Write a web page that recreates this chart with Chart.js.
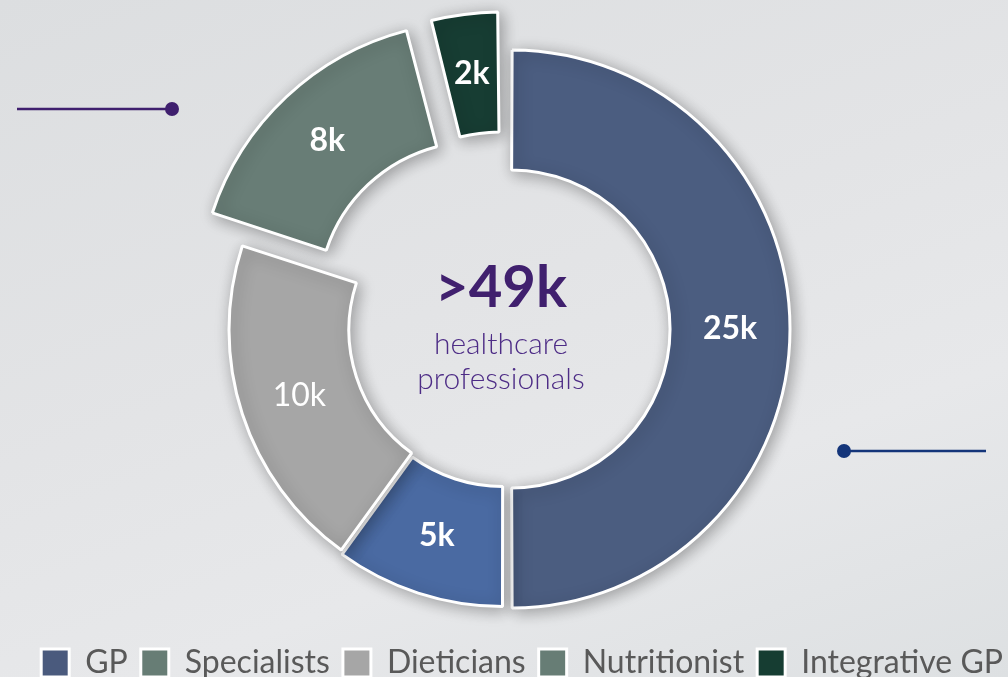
<!DOCTYPE html>
<html>
<head>
<meta charset="utf-8">
<script src="https://cdn.jsdelivr.net/npm/chart.js@4.4.1/dist/chart.umd.min.js"></script>
<style>
  html, body { margin: 0; padding: 0; }
  body {
    width: 1008px; height: 677px; overflow: hidden;
    background: linear-gradient(160deg, #dcdee0 0%, #e3e4e6 45%, #e7e8ea 70%, #dde0e2 100%);
  }
  #wrap { position: relative; width: 1008px; height: 677px; }
</style>
</head>
<body>
<div id="wrap"><canvas id="donut"></canvas></div>
<script>
const categories = ['GP', 'Specialists', 'Dieticians', 'Nutritionist', 'Integrative GP'];
const values = [25, 5, 10, 8, 2];
const valueLabels = ['25k', '5k', '10k', '8k', '2k'];
const sliceColors = ['#4b5d80', '#4a6aa2', '#a6a6a6', '#687d76', '#173d33'];
const legendColors = ['#4a5a7d', '#677d75', '#a6a6a6', '#677d75', '#163d32'];
const explode = [28, 16, 12, 160, 103];
const centerTitle = '>49k';
const centerLines = ['healthcare', 'professionals'];

const FONT = 'Lato, "Open Sans", sans-serif';

// soft drop shadow under the slices
const shadowPlugin = {
    id: 'shadow',
    beforeDatasetsDraw(chart) {
        const ctx = chart.ctx;
        ctx.save();
        ctx.shadowColor = 'rgba(0,0,0,0.32)';
        ctx.shadowBlur = 16;
        ctx.shadowOffsetX = 3;
        ctx.shadowOffsetY = 3;
    },
    afterDatasetsDraw(chart) {
        chart.ctx.restore();
    }
};

// value labels inside each slice, following the exploded position
const sliceLabels = {
    id: 'sliceLabels',
    afterDatasetsDraw(chart) {
        const ctx = chart.ctx;
        const meta = chart.getDatasetMeta(0);
        meta.data.forEach((el, i) => {
            const p = el.getProps(['x', 'y', 'startAngle', 'endAngle', 'innerRadius', 'outerRadius', 'circumference'], true);
            const off = (el.options.offset || 0) / 4;
            const fix = 1 - Math.sin(Math.min(Math.PI, p.circumference));
            const mid = (p.startAngle + p.endAngle) / 2;
            const r = (p.innerRadius + p.outerRadius) / 2 + off * fix + off;
            const x = p.x + Math.cos(mid) * r;
            const y = p.y + Math.sin(mid) * r;
            ctx.save();
            ctx.fillStyle = '#ffffff';
            ctx.font = (i === 2 ? '400 ' : '700 ') + '32px ' + FONT;
            ctx.textAlign = 'center';
            ctx.textBaseline = 'middle';
            ctx.fillText(valueLabels[i], x, y);
            ctx.restore();
        });
    }
};

// text in the hole and the two decorative pointer lines
const extras = {
    id: 'extras',
    afterDraw(chart) {
        const ctx = chart.ctx;
        const el = chart.getDatasetMeta(0).data[0];
        const cx = el.x - 3, cy = el.y;
        ctx.save();
        ctx.textAlign = 'center';
        ctx.textBaseline = 'alphabetic';
        ctx.fillStyle = '#40206e';
        ctx.font = '700 58px ' + FONT;
        ctx.fillText(centerTitle, cx, cy - 22);
        ctx.fillStyle = '#4d2c86';
        ctx.font = '300 30px ' + FONT;
        ctx.fillText(centerLines[0], cx, cy + 25);
        ctx.fillText(centerLines[1], cx, cy + 60);

        ctx.lineWidth = 2.5;
        ctx.strokeStyle = ctx.fillStyle = '#3f1f6e';
        ctx.beginPath(); ctx.moveTo(17, 109); ctx.lineTo(172, 109); ctx.stroke();
        ctx.beginPath(); ctx.arc(172, 109, 7, 0, Math.PI * 2); ctx.fill();

        ctx.strokeStyle = ctx.fillStyle = '#14357a';
        ctx.beginPath(); ctx.moveTo(844, 451); ctx.lineTo(986, 451); ctx.stroke();
        ctx.beginPath(); ctx.arc(844, 451, 7, 0, Math.PI * 2); ctx.fill();
        ctx.restore();
    }
};

new Chart(document.getElementById('donut'), {
    type: 'doughnut',
    data: {
        labels: categories,
        datasets: [{
            data: values,
            backgroundColor: sliceColors,
            borderColor: '#ffffff',
            borderWidth: 3,
            offset: explode
        }]
    },
    options: {
        responsive: true,
        maintainAspectRatio: false,
        animation: false,
        radius: 272,
        cutout: '55.9%',
        layout: { padding: { left: -4, right: -8, top: 24, bottom: -12 } },
        events: [],
        plugins: {
            tooltip: { enabled: false },
            legend: {
                position: 'bottom',
                align: 'end',
                labels: {
                    font: { family: FONT, size: 32 },
                    color: '#595959',
                    boxWidth: 28,
                    boxHeight: 28,
                    padding: 13,
                    generateLabels: () => categories.map((c, i) => ({
                        text: c,
                        fillStyle: legendColors[i],
                        strokeStyle: '#ffffff',
                        lineWidth: 3,
                        fontColor: '#595959',
                        index: i
                    }))
                }
            }
        }
    },
    plugins: [shadowPlugin, sliceLabels, extras]
});
</script>
</body>
</html>
